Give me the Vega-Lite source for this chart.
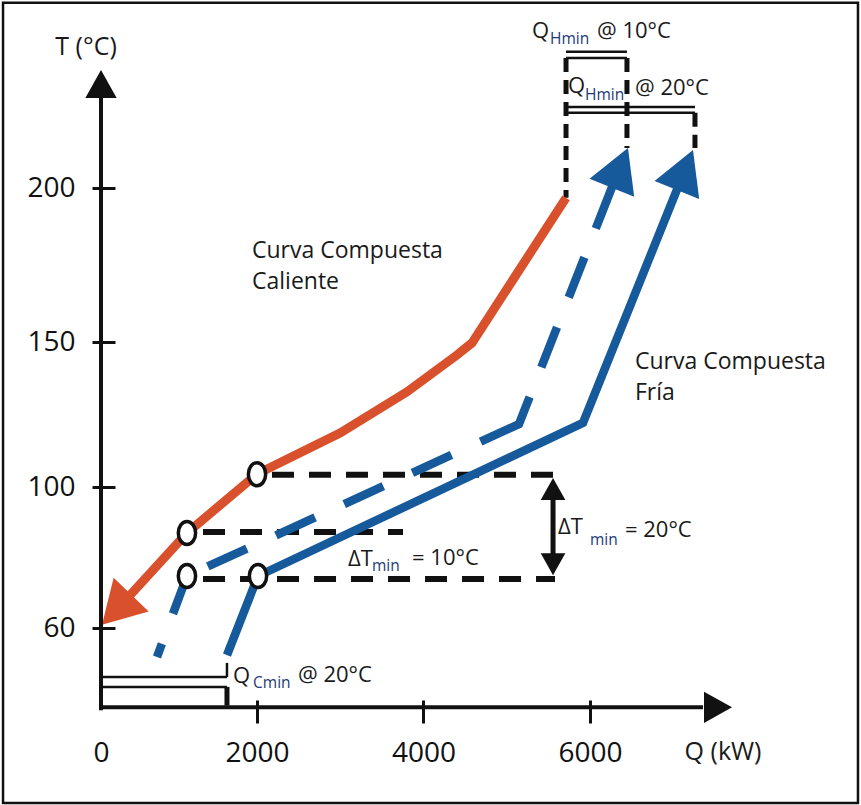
{
  "$schema": "https://vega.github.io/schema/vega-lite/v6.json",
  "width": 760,
  "height": 707,
  "autosize": {"type": "none"},
  "padding": {"left": 101, "top": 0, "right": 0, "bottom": 98},
  "background": "white",
  "config": {"view": {"stroke": null}},
  "encoding": {
    "x": {
      "field": "q", "type": "quantitative",
      "scale": {"domain": [0, 2000, 9255.3], "range": [0, 156, 760], "nice": false, "zero": false},
      "axis": {
        "title": null, "values": [0, 2000, 4000, 6000], "format": "d", "domain": false, "grid": false,
        "offset": -7, "tickSize": 23, "tickWidth": 3,
        "tickColor": {"condition": {"test": "datum.value === 0", "value": "transparent"}, "value": "#111"},
        "labelFont": "Open Sans", "labelFontSize": 28, "labelColor": "#111", "labelPadding": 16,
        "labelFlush": false, "labelOverlap": false
      }
    },
    "y": {
      "field": "t", "type": "quantitative",
      "scale": {"domain": [37.6, 60, 100, 150, 200, 261], "range": [707, 628, 487, 342, 188, 0], "nice": false, "zero": false},
      "axis": {
        "title": null, "values": [60, 100, 150, 200], "format": "d", "domain": false, "grid": false,
        "offset": -14, "tickSize": 23, "tickWidth": 3, "tickColor": "#111",
        "labelFont": "Open Sans", "labelFontSize": 28, "labelColor": "#111", "labelPadding": 17,
        "labelFlush": false, "labelOverlap": false
      }
    }
  },
  "layer": [
    {
      "data": {"values": [{"q": -1256, "q2": 9219, "t": 260.1, "t2": 10.35}]},
      "mark": {"type": "rect", "fillOpacity": 0, "stroke": "#111", "strokeWidth": 2.5},
      "encoding": {"x2": {"field": "q2"}, "y2": {"field": "t2"}}
    },
    {
      "data": {"values": [
        {"q": 2180, "q2": 5580, "t": 104.2},
        {"q": 1308, "q2": 3754, "t": 87.2},
        {"q": 1308, "q2": 5580, "t": 73.9}
      ]},
      "mark": {"type": "rule", "color": "#111", "strokeWidth": 6, "strokeDash": [22, 15]},
      "encoding": {"x2": {"field": "q2"}}
    },
    {
      "data": {"values": [
        {"q": 5712, "t": 242.2, "t2": 196.8},
        {"q": 6444, "t": 242.2, "t2": 213},
        {"q": 7261, "t": 224.4, "t2": 213}
      ]},
      "mark": {"type": "rule", "color": "#111", "strokeWidth": 5, "strokeDash": [14, 8]},
      "encoding": {"y2": {"field": "t2"}}
    },
    {
      "data": {"values": [
        {"q": 5712, "q2": 6444, "t": 244.2},
        {"q": 5712, "q2": 6444, "t": 242.2},
        {"q": 5712, "q2": 7261, "t": 226.3},
        {"q": 5712, "q2": 7261, "t": 224.4},
        {"q": 0, "q2": 1615, "t": 46.1},
        {"q": 0, "q2": 1615, "t": 43.3}
      ]},
      "mark": {"type": "rule", "color": "#111", "strokeWidth": 2.5},
      "encoding": {"x2": {"field": "q2"}}
    },
    {
      "data": {"values": [{"q": 1615, "t": 50.1, "t2": 46.1}]},
      "mark": {"type": "rule", "color": "#111", "strokeWidth": 2.5},
      "encoding": {"y2": {"field": "t2"}}
    },
    {
      "data": {"values": [{"q": 1615, "t": 43.3, "t2": 38.0}]},
      "mark": {"type": "rule", "color": "#111", "strokeWidth": 5},
      "encoding": {"y2": {"field": "t2"}}
    },
    {
      "data": {"values": [
        {"i": 1, "q": 1615, "t": 52.3},
        {"i": 2, "q": 2012, "t": 74.75},
        {"i": 3, "q": 5916, "t": 122.1},
        {"i": 4, "q": 7081, "t": 201.9}
      ]},
      "mark": {"type": "line", "color": "#165a9c", "strokeWidth": 8.5, "strokeJoin": "miter"},
      "encoding": {"order": {"field": "i"}}
    },
    {
      "data": {"values": [
        {"i": 1, "q": 718, "t": 51.8},
        {"i": 2, "q": 1102, "t": 74.75},
        {"i": 3, "q": 5147, "t": 121.7},
        {"i": 4, "q": 6288, "t": 201.9}
      ]},
      "mark": {"type": "line", "color": "#165a9c", "strokeWidth": 8.5, "strokeJoin": "miter",
        "strokeDash": [14, 32, 43, 20.2, 43, 32, 43, 32, 43, 32, 43, 32, 71.3, 32, 43, 32, 43, 31, 60, 10]},
      "encoding": {"order": {"field": "i"}}
    },
    {
      "data": {"values": [
        {"i": 1, "q": 5712, "t": 196.8},
        {"i": 2, "q": 4583, "t": 149.7},
        {"i": 3, "q": 4402, "t": 145.5},
        {"i": 4, "q": 3802, "t": 132.8},
        {"i": 5, "q": 2997, "t": 118.6},
        {"i": 6, "q": 2000, "t": 104.5},
        {"i": 7, "q": 1102, "t": 86.95},
        {"i": 8, "q": 269, "t": 66.8}
      ]},
      "mark": {"type": "line", "color": "#d9512c", "strokeWidth": 9, "strokeJoin": "miter"},
      "encoding": {"order": {"field": "i"}}
    },
    {
      "data": {"values": [{"q": 12.8, "t": 60.9}]},
      "mark": {"type": "point", "shape": "M0,0L0.58,1L-0.58,1Z", "filled": true, "opacity": 1, "size": 7056, "angle": 224, "color": "#d9512c"}
    },
    {
      "data": {"values": [{"q": 6456, "t": 213}, {"q": 7237, "t": 212.3}]},
      "mark": {"type": "point", "shape": "M0,0L0.56,1L-0.56,1Z", "filled": true, "opacity": 1, "size": 7396, "angle": 22, "color": "#165a9c"}
    },
    {
      "data": {"values": [
        {"q": 2000, "t": 104.4},
        {"q": 1102, "t": 86.95},
        {"q": 1102, "t": 74.75},
        {"q": 2012, "t": 74.75}
      ]},
      "mark": {"type": "point", "shape": "M0,-1.333C0.552,-1.333 1,-0.736 1,0C1,0.736 0.552,1.333 0,1.333C-0.552,1.333 -1,0.736 -1,0C-1,-0.736 -0.552,-1.333 0,-1.333Z",
        "filled": true, "opacity": 1, "size": 300, "fill": "white", "stroke": "#111", "strokeWidth": 3.5}
    },
    {
      "data": {"values": [{"q": 0, "t": 36.7, "t2": 229.2}]},
      "mark": {"type": "rule", "color": "#111", "strokeWidth": 4},
      "encoding": {"y2": {"field": "t2"}}
    },
    {
      "data": {"values": [{"q": -25, "q2": 7357, "t": 37.5}]},
      "mark": {"type": "rule", "color": "#111", "strokeWidth": 4},
      "encoding": {"x2": {"field": "q2"}}
    },
    {
      "data": {"values": [{"q": 0, "t": 238.3}]},
      "mark": {"type": "point", "shape": "M0,0L0.56,1L-0.56,1Z", "filled": true, "opacity": 1, "size": 3136, "angle": 0, "color": "#111"}
    },
    {
      "data": {"values": [{"q": 7706, "t": 37.5}]},
      "mark": {"type": "point", "shape": "M0,0L0.56,1L-0.56,1Z", "filled": true, "opacity": 1, "size": 3136, "angle": 90, "color": "#111"}
    },
    {
      "data": {"values": [{"q": 5556, "t": 97.7, "t2": 79.3}]},
      "mark": {"type": "rule", "color": "#111", "strokeWidth": 5},
      "encoding": {"y2": {"field": "t2"}}
    },
    {
      "data": {"values": [{"q": 5556, "t": 103.1}]},
      "mark": {"type": "point", "shape": "M0,0L0.56,1L-0.56,1Z", "filled": true, "opacity": 1, "size": 1936, "angle": 0, "color": "#111"}
    },
    {
      "data": {"values": [{"q": 5556, "t": 75.0}]},
      "mark": {"type": "point", "shape": "M0,0L0.56,1L-0.56,1Z", "filled": true, "opacity": 1, "size": 1936, "angle": 180, "color": "#111"}
    },
    {
      "data": {"values": [
        {"s": "Curva Compuesta", "q": 1936, "t": 179.5},
        {"s": "Caliente", "q": 1936, "t": 169.5},
        {"s": "Curva Compuesta", "q": 6540, "t": 143.1},
        {"s": "Fría", "q": 6540, "t": 132.4}
      ]},
      "mark": {"type": "text", "font": "Open Sans", "fontSize": 23, "align": "left", "baseline": "middle", "color": "#1a1a1a"},
      "encoding": {"text": {"field": "s"}}
    },
    {
      "data": {"values": [
        {"s": "Q", "q": 5303, "t": 251},
        {"s": "@ 10°C", "q": 6084, "t": 251},
        {"s": "Q", "q": 5736, "t": 233.1},
        {"s": "@ 20°C", "q": 6540, "t": 232.5},
        {"s": "Q", "q": 1692, "t": 46.4},
        {"s": "@ 20°C", "q": 2492, "t": 46.7},
        {"s": "ΔT", "q": 3093, "t": 79.6},
        {"s": "= 10°C", "q": 3862, "t": 79.9},
        {"s": "ΔT", "q": 5616, "t": 88.65},
        {"s": "= 20°C", "q": 6420, "t": 87.8}
      ]},
      "mark": {"type": "text", "font": "Open Sans", "fontSize": 22, "align": "left", "baseline": "middle", "color": "#1a1a1a"},
      "encoding": {"text": {"field": "s"}}
    },
    {
      "data": {"values": [
        {"s": "Hmin", "q": 5520, "t": 248.4},
        {"s": "Hmin", "q": 5940, "t": 230.2},
        {"s": "Cmin", "q": 1949, "t": 44.4},
        {"s": "min", "q": 3381, "t": 77.6},
        {"s": "min", "q": 6000, "t": 84.96}
      ]},
      "mark": {"type": "text", "font": "Open Sans", "fontSize": 15.5, "align": "left", "baseline": "middle", "color": "#233a75"},
      "encoding": {"text": {"field": "s"}}
    },
    {
      "data": {"values": [
        {"s": "T (°C)", "q": -192, "t": 245.8},
        {"s": "Q (kW)", "q": 7598, "t": 24.8}
      ]},
      "mark": {"type": "text", "font": "Open Sans", "fontSize": 25, "align": "center", "baseline": "middle", "color": "#1a1a1a"},
      "encoding": {"text": {"field": "s"}}
    }
  ]
}
